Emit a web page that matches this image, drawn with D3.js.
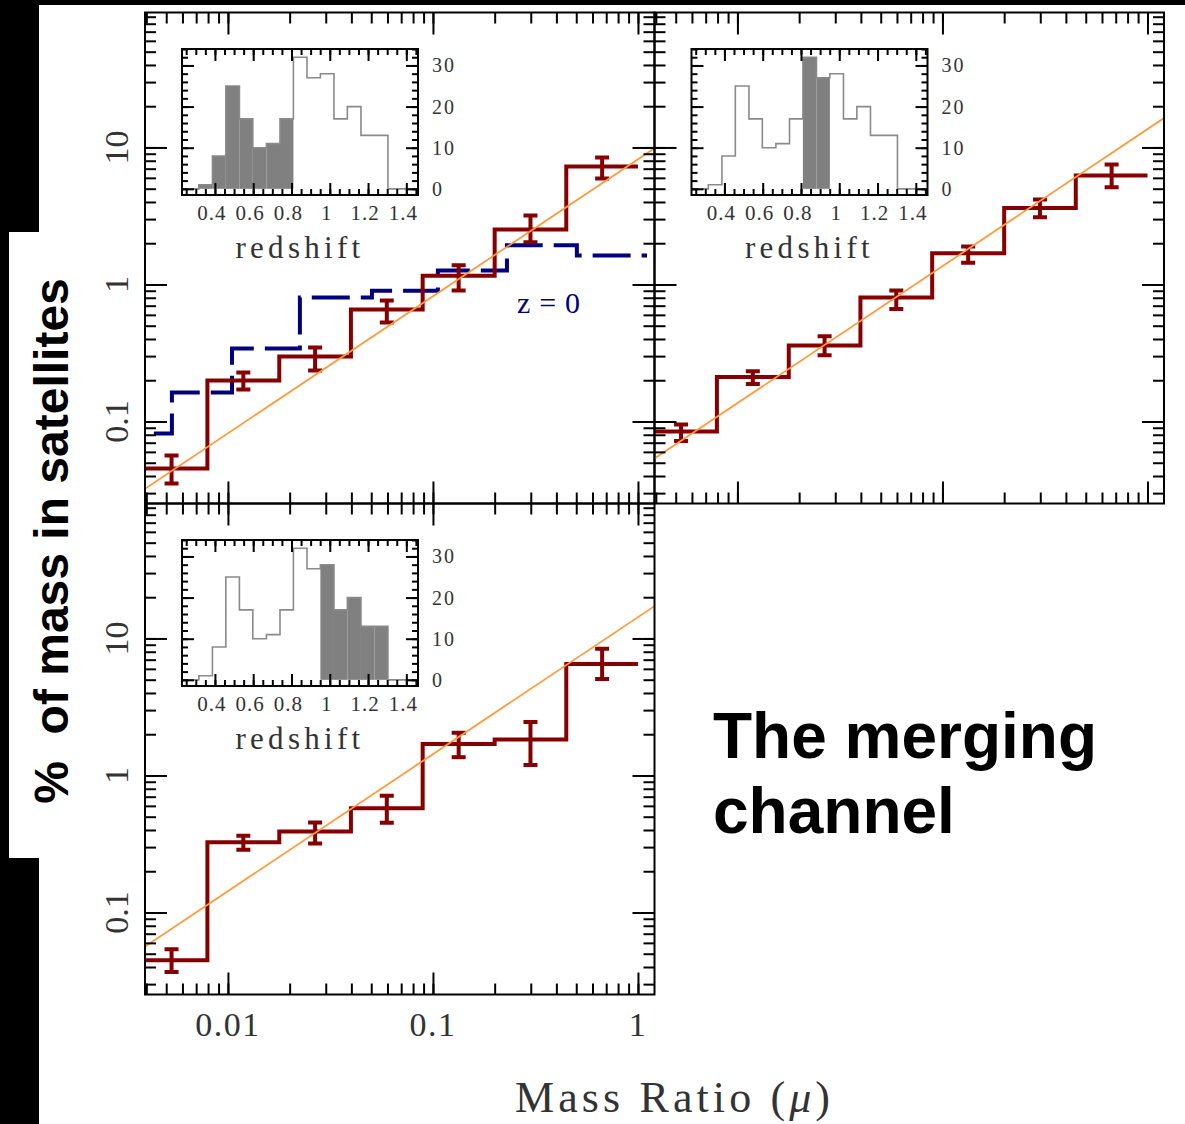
<!DOCTYPE html>
<html>
<head>
<meta charset="utf-8">
<title>The merging channel</title>
<script src="https://d3js.org/d3.v7.min.js"></script>
<style>
  body { margin: 0; background: #fff; }
  svg { display: block; }
</style>
</head>
<body>
<svg id="chart"></svg>
<script>
// ---- data ----

// mass-ratio bins (log spaced)
var muEdges = [0.00355, 0.00794, 0.0178, 0.0398, 0.0891, 0.200, 0.447, 1.0];

// % of mass in satellites for the three redshift slices, with error bars
var pctLowZ  = [0.0454, 0.199, 0.298, 0.657, 1.16, 2.52, 7.27];
var errLowZ  = [[0.0353, 0.0565], [0.171, 0.228], [0.236, 0.347], [0.528, 0.764], [0.904, 1.38], [2.03, 3.19], [5.94, 8.45]];
var pctMidZ  = [0.0845, 0.211, 0.359, 0.804, 1.69, 3.61, 6.25];
var errMidZ  = [[0.072, 0.095], [0.188, 0.233], [0.304, 0.419], [0.663, 0.904], [1.44, 1.89], [3.10, 4.17], [5.13, 7.51]];
var pctHighZ = [0.0448, 0.325, 0.39, 0.577, 1.70, 1.83, 6.5];
var errHighZ = [[0.0368, 0.0538], [0.287, 0.363], [0.319, 0.454], [0.452, 0.71], [1.36, 2.05], [1.19, 2.46], [5.06, 8.41]];

// z=0 comparison histogram (dashed, first panel only)
var muEdgesZ0 = [0.00251, 0.00533, 0.01047, 0.02244, 0.0504, 0.1057, 0.2296, 0.5035, 1.107];
var pctZ0 = [0.0817, 0.163, 0.341, 0.804, 0.90, 1.265, 1.93, 1.63];

// straight fits, pct = amp * mu
var fitAmp = [8.2, 13.6, 14.3];

// axis extents and labelled ticks
var muDomain = [0.00394, 1.204];
var pctDomain = [0.0252, 96.6];
var muTickLabels = [0.01, 0.1, 1];
var pctTickLabels = [0.1, 1, 10];

// redshift histogram shown in the insets
var zEdges = [0.175, 0.245, 0.316, 0.387, 0.457, 0.528, 0.598, 0.669, 0.740, 0.810, 0.881, 0.951, 1.022, 1.092, 1.163, 1.234, 1.304, 1.375, 1.445];
var zCounts = [0, 0, 1, 8, 25, 17, 10, 11, 17, 32, 27, 28, 17, 20, 13, 13, 0, 0];
var zSlices = [[0.316, 0.810], [0.810, 0.951], [0.951, 1.304]];
var zDomain = [0.228, 1.461];
var countDomain = [-1.5, 34];
var zTickLabels = [0.4, 0.6, 0.8, 1.0, 1.2, 1.4];
var countTickLabels = [0, 10, 20, 30];

// ---- drawing ----
var svg = d3.select('#chart').attr('width', 1185).attr('height', 1124);
svg.append('rect').attr('width', 1185).attr('height', 1124).attr('fill', '#fff');
// black slide edges around the figure
svg.append('rect').attr('x', 0).attr('y', 0).attr('width', 1185).attr('height', 5).attr('fill', '#000');
svg.append('rect').attr('x', 0).attr('y', 0).attr('width', 39).attr('height', 1124).attr('fill', '#000');
svg.append('rect').attr('x', 9).attr('y', 232).attr('width', 30).attr('height', 626).attr('fill', '#fff');

var W = 509.5, H = 491;
var RED = '#850000', BLUE = '#00007f', ORANGE = '#ff9a3d';
var SERIF = '"Liberation Serif", "Times New Roman", serif';

function logTicks(dom, majorOnly) {
    var out = [];
    for (var e = -3; e <= 2; e++) {
        for (var k = 1; k < 10; k++) {
            if (majorOnly && k > 1) continue;
            var v = +(k * Math.pow(10, e)).toPrecision(3);
            if (v >= dom[0] && v <= dom[1]) out.push(v);
        }
    }
    return out;
}

function tickAxis(g, axisFn, scale, vals, size, tr) {
    g.append('g').attr('transform', tr || null)
        .call(axisFn(scale).tickValues(vals).tickSize(-size).tickSizeOuter(0).tickFormat(''))
        .call(function (a) { a.select('.domain').remove(); })
        .selectAll('line').attr('stroke', '#000').attr('stroke-width', 2);
}

function drawInset(g, slice) {
    var iw = 236, ih = 146;
    var ig = g.append('g').attr('transform', 'translate(37,36.5)');
    var zx = d3.scaleLinear().domain(zDomain).range([0, iw]);
    var zy = d3.scaleLinear().domain(countDomain).range([ih, 0]);

    ig.append('clipPath').attr('id', 'iclip' + slice[0]).append('rect').attr('width', iw).attr('height', ih);
    var ip = ig.append('g').attr('clip-path', 'url(#iclip' + slice[0] + ')');

    // shaded redshift slice
    zCounts.forEach(function (c, j) {
        var a = zEdges[j], b = zEdges[j + 1];
        if (a >= slice[0] - 1e-6 && b <= slice[1] + 1e-6) {
            ip.append('rect')
                .attr('x', zx(a)).attr('y', zy(c))
                .attr('width', zx(b) - zx(a)).attr('height', zy(0) - zy(c))
                .attr('fill', '#808080');
        }
    });

    var pts = zCounts.map(function (c, j) { return [zEdges[j], c]; });
    pts.push([zEdges[zEdges.length - 1], zCounts[zCounts.length - 1]]);
    var step = d3.line().x(function (d) { return zx(d[0]); }).y(function (d) { return zy(d[1]); }).curve(d3.curveStepAfter);
    ip.append('path').attr('d', step(pts)).attr('fill', 'none').attr('stroke', '#8a8a8a').attr('stroke-width', 1.6);

    ig.append('rect').attr('width', iw).attr('height', ih).attr('fill', 'none').attr('stroke', '#000').attr('stroke-width', 2);

    var zMinor = d3.range(5, 30).map(function (k) { return k / 20; });
    var cMinor = d3.range(0, 35, 2);
    tickAxis(ig, d3.axisBottom, zx, zMinor, 6, 'translate(0,' + ih + ')');
    tickAxis(ig, d3.axisBottom, zx, zTickLabels, 12, 'translate(0,' + ih + ')');
    tickAxis(ig, d3.axisTop, zx, zMinor, 6);
    tickAxis(ig, d3.axisTop, zx, zTickLabels, 12);
    tickAxis(ig, d3.axisLeft, zy, cMinor, 6);
    tickAxis(ig, d3.axisLeft, zy, countTickLabels, 12);
    tickAxis(ig, d3.axisRight, zy, cMinor, 6, 'translate(' + iw + ',0)');
    tickAxis(ig, d3.axisRight, zy, countTickLabels, 12, 'translate(' + iw + ',0)');

    ig.selectAll('.zlab').data(zTickLabels).enter().append('text')
        .attr('x', function (d) { return zx(d) - 3; }).attr('y', ih + 25)
        .attr('text-anchor', 'middle').attr('font-family', SERIF).attr('font-size', 21)
        .attr('letter-spacing', 1).attr('fill', '#333')
        .text(d3.format('~g'));
    ig.selectAll('.clab').data(countTickLabels).enter().append('text')
        .attr('x', iw + 14).attr('y', function (d) { return zy(d); }).attr('dy', '0.35em')
        .attr('font-family', SERIF).attr('font-size', 20).attr('letter-spacing', 2).attr('fill', '#333')
        .text(d3.format('~g'));
    ig.append('text').attr('x', iw / 2).attr('y', ih + 63).attr('text-anchor', 'middle')
        .attr('font-family', SERIF).attr('font-size', 31).attr('letter-spacing', 4.3).attr('fill', '#333')
        .text('redshift');
}

function drawPanel(p, i) {
    var g = svg.append('g').attr('transform', 'translate(' + p.left + ',' + p.top + ')');
    var x = d3.scaleLog().domain(muDomain).range([0, W]);
    var y = d3.scaleLog().domain(pctDomain).range([H, 0]);

    g.append('clipPath').attr('id', 'clip' + i).append('rect').attr('width', W).attr('height', H);
    var plot = g.append('g').attr('clip-path', 'url(#clip' + i + ')');

    var step = d3.line().x(function (d) { return x(d[0]); }).y(function (d) { return y(d[1]); }).curve(d3.curveStepAfter);

    if (p.z0) {
        var zp = pctZ0.map(function (v, j) { return [muEdgesZ0[j], v]; });
        zp.push([muEdgesZ0[muEdgesZ0.length - 1], pctZ0[pctZ0.length - 1]]);
        plot.append('path').attr('d', step(zp)).attr('fill', 'none')
            .attr('stroke', BLUE).attr('stroke-width', 4).attr('stroke-dasharray', '38,11');
        g.append('text').attr('x', x(0.257)).attr('y', y(0.614))
            .attr('font-family', SERIF).attr('font-size', 30).attr('fill', BLUE)
            .attr('textLength', 63).attr('lengthAdjust', 'spacing').text('z=0');
    }

    var hp = p.pct.map(function (v, j) { return [muEdges[j], v]; });
    hp.push([muEdges[muEdges.length - 1], p.pct[p.pct.length - 1]]);
    plot.append('path').attr('d', step(hp)).attr('fill', 'none')
        .attr('stroke', RED).attr('stroke-width', 4).attr('stroke-linejoin', 'miter');

    var eb = plot.selectAll('.eb').data(p.err).enter().append('g')
        .attr('transform', function (d, j) { return 'translate(' + x(Math.sqrt(muEdges[j] * muEdges[j + 1])) + ',0)'; });
    eb.append('line').attr('y1', function (d) { return y(d[0]); }).attr('y2', function (d) { return y(d[1]); })
        .attr('stroke', RED).attr('stroke-width', 4);
    eb.append('line').attr('x1', -7).attr('x2', 7).attr('y1', function (d) { return y(d[0]); }).attr('y2', function (d) { return y(d[0]); })
        .attr('stroke', RED).attr('stroke-width', 4);
    eb.append('line').attr('x1', -7).attr('x2', 7).attr('y1', function (d) { return y(d[1]); }).attr('y2', function (d) { return y(d[1]); })
        .attr('stroke', RED).attr('stroke-width', 4);

    var fit = d3.line().x(function (d) { return x(d); }).y(function (d) { return y(p.amp * d); });
    plot.append('path').attr('d', fit(muDomain)).attr('fill', 'none')
        .attr('stroke', ORANGE).attr('stroke-width', 1.8);

    drawInset(g, p.slice);

    // frame with inward ticks on all four sides
    g.append('rect').attr('width', W).attr('height', H).attr('fill', 'none').attr('stroke', '#000').attr('stroke-width', 2);
    var xMinor = logTicks(muDomain), xMajor = logTicks(muDomain, true);
    var yMinor = logTicks(pctDomain), yMajor = logTicks(pctDomain, true);
    tickAxis(g, d3.axisBottom, x, xMinor, 11, 'translate(0,' + H + ')');
    tickAxis(g, d3.axisBottom, x, xMajor, 22, 'translate(0,' + H + ')');
    tickAxis(g, d3.axisTop, x, xMinor, 11);
    tickAxis(g, d3.axisTop, x, xMajor, 22);
    tickAxis(g, d3.axisLeft, y, yMinor, 11);
    tickAxis(g, d3.axisLeft, y, yMajor, 22);
    tickAxis(g, d3.axisRight, y, yMinor, 11, 'translate(' + W + ',0)');
    tickAxis(g, d3.axisRight, y, yMajor, 22, 'translate(' + W + ',0)');

    if (p.yLabels) {
        g.selectAll('.ylab').data(pctTickLabels).enter().append('text')
            .attr('transform', function (d) { return 'translate(-17,' + y(d) + ') rotate(-90)'; })
            .attr('text-anchor', 'middle').attr('font-family', SERIF).attr('font-size', 34).attr('fill', '#333')
            .text(d3.format('~g'));
    }
    if (p.xLabels) {
        g.selectAll('.xlab').data(muTickLabels).enter().append('text')
            .attr('x', function (d) { return x(d); }).attr('y', H + 41.5)
            .attr('text-anchor', 'middle').attr('font-family', SERIF).attr('font-size', 34)
            .attr('letter-spacing', 1.5).attr('fill', '#333')
            .text(d3.format('~g'));
    }
}

var panels = [
    { left: 145, top: 12.5, pct: pctLowZ, err: errLowZ, amp: fitAmp[0], slice: zSlices[0], z0: true, yLabels: true },
    { left: 654.5, top: 12.5, pct: pctMidZ, err: errMidZ, amp: fitAmp[1], slice: zSlices[1] },
    { left: 145, top: 503.5, pct: pctHighZ, err: errHighZ, amp: fitAmp[2], slice: zSlices[2], yLabels: true, xLabels: true }
];
panels.forEach(drawPanel);

// axis titles
var xt = svg.append('text').attr('x', 515).attr('y', 1112)
    .attr('font-family', SERIF).attr('font-size', 44).attr('fill', '#333')
    .attr('textLength', 315).attr('lengthAdjust', 'spacing');
xt.append('tspan').text('Mass Ratio (');
xt.append('tspan').attr('font-style', 'italic').text('μ');
xt.append('tspan').text(')');

svg.append('text').attr('transform', 'translate(68,541) rotate(-90)')
    .attr('text-anchor', 'middle').attr('font-family', '"Liberation Sans", Arial, sans-serif')
    .attr('font-weight', 'bold').attr('font-size', 48).attr('fill', '#000')
    .style('white-space', 'pre').text('%  of mass in satellites');

var title = svg.append('text').attr('font-family', '"Liberation Sans", Arial, sans-serif')
    .attr('font-weight', 'bold').attr('font-size', 64).attr('fill', '#000');
title.append('tspan').attr('x', 713).attr('y', 758).text('The merging');
title.append('tspan').attr('x', 713).attr('y', 833).text('channel');
</script>
</body>
</html>
